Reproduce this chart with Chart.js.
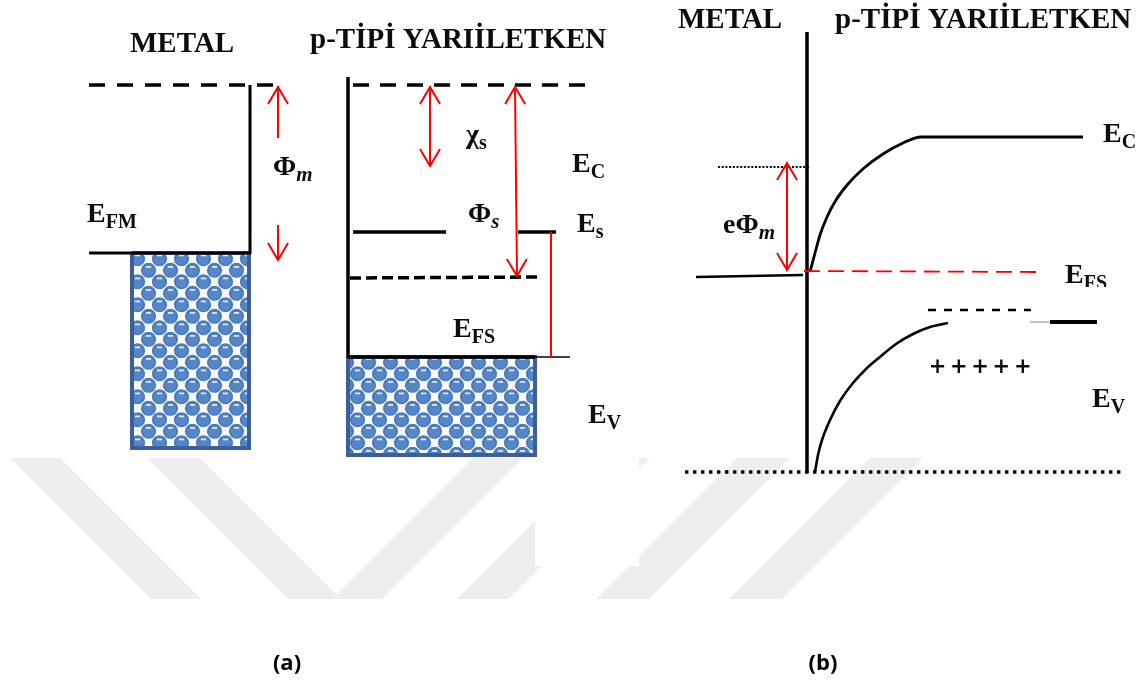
<!DOCTYPE html>
<html>
<head>
<meta charset="utf-8">
<title>Metal / p-tipi yarıiletken bant diyagramı</title>
<script src="https://cdn.jsdelivr.net/npm/chart.js@4.4.1/dist/chart.umd.min.js"></script>
<style>
  html, body { margin: 0; padding: 0; background: #ffffff; overflow: hidden; }
  #wrap { position: relative; width: 1147px; height: 689px; }
  canvas { display: block; }
</style>
</head>
<body>
<div id="wrap"><canvas id="band" width="1147" height="689"></canvas></div>
<script>
// ---------------------------------------------------------------------------
// Diagram coordinates: x = position across the drawing, y = energy axis
// (grows downward, so a higher level has a smaller value).
// ---------------------------------------------------------------------------

// Panel (a): metal and p-type semiconductor before contact
const metalVacuumA   = [[89, 85], [273, 85]];
const metalEdgeA     = [[250, 85], [250, 254]];
const metalFermiA    = [[89, 253], [251, 253]];
const metalBandA     = [[132, 253], [249, 253], [249, 448], [132, 448], [132, 253]];

const semiEdgeA      = [[348, 77], [348, 358]];
const semiVacuumA    = [[353, 85], [589, 85]];
const semiLevelLeftA = [[353, 232], [446, 232]];
const semiLevelRightA= [[518, 232], [556, 232]];
const semiFermiA     = [[350, 278], [537, 277]];
const valenceTopA    = [[348, 357], [535, 357]];
const valenceTailA   = [[535, 357], [570, 357]];
const bandGapMarkA   = [[551, 232], [551, 357]];
const semiBandA      = [[348, 357], [535, 357], [535, 455], [348, 455], [348, 357]];

// Red arrows of panel (a): [start, tip] pairs
const phiMUpA   = [[278, 138], [278, 87]];
const phiMDownA = [[278, 225], [278, 260]];
const chiSA     = [[430, 166], [430, 87]];
const phiSA     = [[517, 276], [515, 87]];

// Panel (b): after contact
const interfaceB     = [[807, 32], [807, 473]];
const metalVacuumB   = [[718, 167], [810, 167]];
const metalFermiB    = [[696, 277], [803, 275]];
const fermiB         = [[804, 271], [1040, 272]];
const conductionB    = [[810, 272], [815, 253], [820, 235], [827, 217], [836, 200], [848, 184],
                        [864, 168], [883, 154], [903, 143], [921, 137], [1083, 137]];
const valenceB       = [[815, 472], [818, 455], [822, 440], [830, 420], [840, 401], [853, 383],
                        [866, 369], [880, 357], [896, 344], [913, 334], [930, 327], [948, 323]];
const valenceFadeB   = [[1030, 322], [1050, 322]];
const valenceFlatB   = [[1050, 322], [1097, 322]];
const depletionEdgeB = [[928, 310], [1031, 310]];
const baseLineB      = [[685, 472], [1121, 472]];
const ePhiMB         = [[787, 270], [787, 163]];

// Background emblem bands and the blank patch over it
const emblemBands = [
  [[10, 458], [60, 458], [201, 599], [151, 599]],
  [[147, 458], [200, 458], [341, 599], [288, 599]],
  [[473, 458], [523, 458], [382, 599], [332, 599]],
  [[598, 458], [650, 458], [509, 599], [457, 599]],
  [[737, 458], [790, 458], [649, 599], [596, 599]],
  [[870, 458], [923, 458], [782, 599], [729, 599]]
];
const blankPatch = [[535, 458], [639, 458], [639, 566], [535, 566]];

// Text content
const panelTitles   = ['METAL', 'p-TİPİ YARIİLETKEN'];
const levelSymbols  = ['E', 'Φ', 'χ', 'E', 'Φ', 'E', 'E', 'E'];
const levelSubs     = ['FM', 'm', 's', 'C', 's', 's', 'FS', 'V'];
const levelSymbolsB = ['eΦ', 'E', 'E', 'E'];
const levelSubsB    = ['m', 'C', 'FS', 'V'];
const chargeMarks   = ['+', '+', '+', '+', '+'];
const panelCaptions = ['(a)', '(b)'];

// ---------------------------------------------------------------------------
// Styling and placement
// ---------------------------------------------------------------------------
const SERIF = '"Liberation Serif", "Times New Roman", "DejaVu Serif", serif';
const F_TITLE = 'bold 29px ' + SERIF;
const F_SYM   = 'bold 28px ' + SERIF;
const F_SUB   = 'bold 20px ' + SERIF;
const F_SUBI  = 'italic bold 21px ' + SERIF;
const F_CAP   = 'bold 22px "Open Sans", "DejaVu Sans", sans-serif';
const F_PLUS  = 'bold 21px "DejaVu Sans", sans-serif';
const PLUS_STEP = 21.3;
const RED = '#ff0000';
const BLUE_EDGE = '#3c5f95';

// anchors (left, baseline) for each text item
const titleAnchors   = [[130, 52], [310, 48], [678, 28], [835, 28]];
const levelAnchorsA  = [[87, 222], [273, 175], [466, 143], [572, 172], [468, 222], [577, 232], [453, 337], [588, 423]];
const levelItalicA   = [false, true, false, false, true, false, false, false];
const levelAnchorsB  = [[723, 233], [1103, 142], [1065, 283], [1092, 407]];
const levelItalicB   = [true, false, false, false];
const levelClipB     = [{ right: 777 }, null, { bottom: 287 }, null];
const plusAnchor     = [937.5, 368];
const captionAnchors = [[287, 670], [823, 670]];

function spherePattern() {
  const w = 22, h = 23;
  const t = document.createElement('canvas');
  t.width = w; t.height = h;
  const g = t.getContext('2d');
  g.fillStyle = '#ffffff';
  g.fillRect(0, 0, w, h);
  const base = [[5.5, 5.75], [16.5, 17.25]];
  for (const [bx, by] of base) {
    for (const ox of [-w, 0, w]) {
      for (const oy of [-h, 0, h]) {
        const cx = bx + ox, cy = by + oy;
        g.beginPath();
        g.arc(cx, cy, 7.6, 0, Math.PI * 2);
        g.fillStyle = '#4a7bbd';
        g.fill();
        g.beginPath();
        g.arc(cx, cy + 0.6, 5.6, 0, Math.PI * 2);
        g.fillStyle = '#5587c8';
        g.fill();
        g.fillStyle = '#e4edf8';
        g.fillRect(cx - 2.6, cy - 4.2, 5.2, 1.7);
      }
    }
  }
  return g.createPattern(t, 'repeat');
}

const toXY = pts => pts.map(([x, y]) => ({ x, y }));

function lineSet(points, style, order) {
  return Object.assign({
    data: toXY(points),
    borderColor: '#000000',
    borderWidth: 3,
    pointRadius: 0,
    pointHoverRadius: 0,
    fill: false,
    tension: 0,
    order: order
  }, style);
}

function shapeSet(points, color, order, edge) {
  return {
    data: toXY(points),
    borderColor: edge ? edge.color : 'rgba(0,0,0,0)',
    borderWidth: edge ? edge.width : 0,
    backgroundColor: color,
    fill: 'shape',
    pointRadius: 0,
    pointHoverRadius: 0,
    tension: 0,
    order: order
  };
}

const pattern = spherePattern();

// arrows: shafts are datasets, heads are drawn at their tips
const arrowList = [
  { pts: phiMUpA, both: false },
  { pts: phiMDownA, both: false },
  { pts: chiSA, both: true },
  { pts: phiSA, both: true },
  { pts: ePhiMB, both: true }
];

const datasets = [];
emblemBands.forEach(b => datasets.push(shapeSet(b, '#eeeeee', 40)));
datasets.push(shapeSet(blankPatch, '#ffffff', 35));
datasets.push(shapeSet(metalBandA, pattern, 30, { color: BLUE_EDGE, width: 4 }));
datasets.push(shapeSet(semiBandA, pattern, 30, { color: BLUE_EDGE, width: 4 }));

datasets.push(lineSet(metalVacuumA, { borderWidth: 3.5, borderDash: [16, 12] }, 10));
datasets.push(lineSet(metalEdgeA, { borderWidth: 3 }, 10));
datasets.push(lineSet(metalFermiA, { borderWidth: 3.2 }, 10));
datasets.push(lineSet(semiEdgeA, { borderWidth: 3.5 }, 10));
datasets.push(lineSet(semiVacuumA, { borderWidth: 3.5, borderDash: [16, 11] }, 10));
datasets.push(lineSet(semiLevelLeftA, { borderWidth: 3.5 }, 10));
datasets.push(lineSet(semiLevelRightA, { borderWidth: 3.5 }, 10));
datasets.push(lineSet(semiFermiA, { borderWidth: 3.5, borderDash: [11, 5] }, 10));
datasets.push(lineSet(valenceTopA, { borderWidth: 3.5 }, 9));
datasets.push(lineSet(valenceTailA, { borderWidth: 1.5 }, 10));
datasets.push(lineSet(bandGapMarkA, { borderColor: RED, borderWidth: 2 }, 8));

datasets.push(lineSet(interfaceB, { borderWidth: 3.5 }, 10));
datasets.push(lineSet(metalVacuumB, { borderWidth: 2, borderDash: [2, 1.7] }, 10));
datasets.push(lineSet(metalFermiB, { borderWidth: 2.5 }, 10));
datasets.push(lineSet(fermiB, { borderColor: RED, borderWidth: 1.8, borderDash: [16, 8] }, 9));
datasets.push(lineSet(conductionB, { borderWidth: 2.8, cubicInterpolationMode: 'monotone' }, 10));
datasets.push(lineSet(valenceB, { borderWidth: 2.6, cubicInterpolationMode: 'monotone' }, 10));
datasets.push(lineSet(valenceFadeB, { borderColor: '#c4c4c4', borderWidth: 2 }, 10));
datasets.push(lineSet(valenceFlatB, { borderWidth: 4 }, 10));
datasets.push(lineSet(depletionEdgeB, { borderWidth: 2.6, borderDash: [8, 8] }, 10));
datasets.push(lineSet(baseLineB, { borderWidth: 3.4, borderDash: [3.4, 4.6] }, 10));

arrowList.forEach(a => datasets.push(lineSet(a.pts, { borderColor: RED, borderWidth: 2 }, 5)));

const arrowHeads = {
  id: 'arrowHeads',
  afterDatasetsDraw(chart) {
    const { ctx, scales: { x, y } } = chart;
    const head = (from, to) => {
      const fx = x.getPixelForValue(from[0]), fy = y.getPixelForValue(from[1]);
      const tx = x.getPixelForValue(to[0]), ty = y.getPixelForValue(to[1]);
      const ang = Math.atan2(ty - fy, tx - fx);
      const len = 17, half = 10;
      const bx = tx - len * Math.cos(ang), by = ty - len * Math.sin(ang);
      const nx = -Math.sin(ang) * half, ny = Math.cos(ang) * half;
      ctx.beginPath();
      ctx.moveTo(bx + nx, by + ny);
      ctx.lineTo(tx, ty);
      ctx.lineTo(bx - nx, by - ny);
      ctx.stroke();
    };
    ctx.save();
    ctx.strokeStyle = RED;
    ctx.lineWidth = 2;
    ctx.lineJoin = 'miter';
    for (const a of arrowList) {
      head(a.pts[0], a.pts[1]);
      if (a.both) head(a.pts[1], a.pts[0]);
    }
    ctx.restore();
  }
};

const labelsPlugin = {
  id: 'labels',
  afterDatasetsDraw(chart) {
    const { ctx, scales: { x, y } } = chart;
    const put = (txt, font, at, align, dx) => {
      ctx.font = font;
      ctx.textAlign = align || 'left';
      ctx.fillText(txt, x.getPixelForValue(at[0]) + (dx || 0), y.getPixelForValue(at[1]));
    };
    const symbol = (sym, sub, at, italic, clip) => {
      ctx.save();
      if (clip) {
        ctx.beginPath();
        const r = clip.right !== undefined ? x.getPixelForValue(clip.right) : chart.width;
        const b = clip.bottom !== undefined ? y.getPixelForValue(clip.bottom) : chart.height;
        ctx.rect(0, 0, r, b);
        ctx.clip();
      }
      ctx.font = F_SYM;
      ctx.textAlign = 'left';
      const px = x.getPixelForValue(at[0]), py = y.getPixelForValue(at[1]);
      ctx.fillText(sym, px, py);
      const w = ctx.measureText(sym).width;
      ctx.font = italic ? F_SUBI : F_SUB;
      ctx.fillText(sub, px + w, py + 6);
      ctx.restore();
    };
    ctx.save();
    ctx.fillStyle = '#0d0d0d';
    ctx.textBaseline = 'alphabetic';
    // panel titles, repeated over both panels
    titleAnchors.forEach((at, i) => put(panelTitles[i % 2], F_TITLE, at));
    levelSymbols.forEach((s, i) => symbol(s, levelSubs[i], levelAnchorsA[i], levelItalicA[i], null));
    levelSymbolsB.forEach((s, i) => symbol(s, levelSubsB[i], levelAnchorsB[i], levelItalicB[i], levelClipB[i]));
    // fixed charges in the depletion region
    ctx.textBaseline = 'middle';
    chargeMarks.forEach((m, i) => put(m, F_PLUS, plusAnchor, 'center', i * PLUS_STEP));
    ctx.textBaseline = 'alphabetic';
    ctx.fillStyle = '#000000';
    panelCaptions.forEach((c, i) => put(c, F_CAP, captionAnchors[i], 'center'));
    ctx.restore();
  }
};

new Chart(document.getElementById('band'), {
  type: 'line',
  data: { datasets },
  options: {
    responsive: false,
    animation: false,
    devicePixelRatio: 1,
    events: [],
    layout: { padding: 0 },
    scales: {
      x: { type: 'linear', min: 0, max: 1147, display: false },
      y: { type: 'linear', min: 0, max: 689, reverse: true, display: false }
    },
    plugins: {
      legend: { display: false },
      tooltip: { enabled: false },
      title: { display: false }
    }
  },
  plugins: [arrowHeads, labelsPlugin]
});
</script>
</body>
</html>
